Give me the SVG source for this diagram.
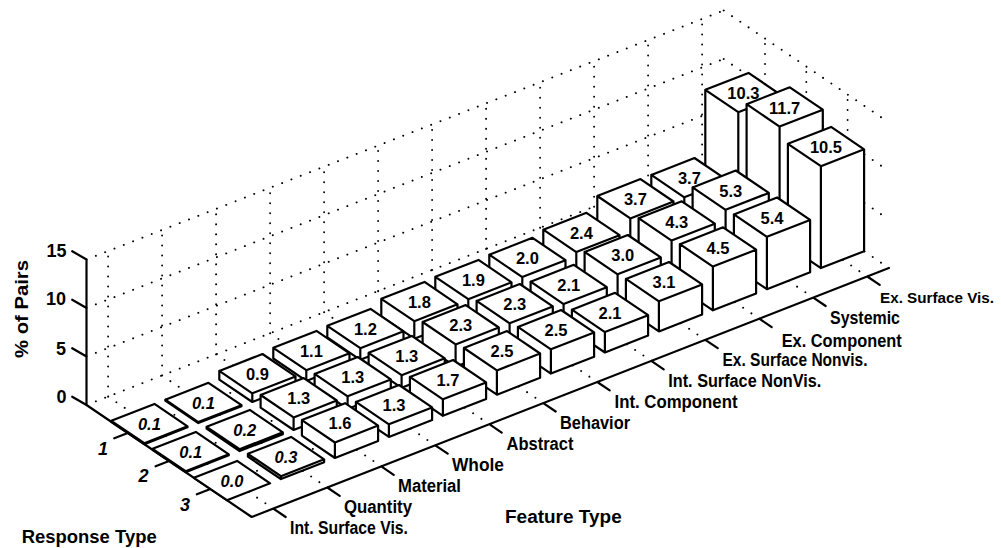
<svg xmlns="http://www.w3.org/2000/svg" width="1001" height="548" viewBox="0 0 1001 548">
<style>
.grid{fill:none;stroke:#000;stroke-width:1.9;stroke-linecap:round;stroke-dasharray:0.1 9.9}
.axis{fill:none;stroke:#000;stroke-width:2.2;stroke-linecap:round;stroke-linejoin:round}
.bar path{fill:#fff;stroke:#000;stroke-width:2.2;stroke-linejoin:round;stroke-linecap:round}
.bar text{font-family:"Liberation Sans",Arial,sans-serif;font-size:16.5px;font-weight:bold;text-anchor:middle;fill:#000}
.bar text.it{font-style:italic}
.lbl{font-family:"Liberation Sans",Arial,sans-serif;font-size:18px;font-weight:bold;fill:#000}
.lbl.sm{font-size:15px}
.tk{font-family:"Liberation Sans",Arial,sans-serif;font-size:18px;font-weight:bold;fill:#000}
</style>
<rect width="1001" height="548" fill="#fff"/>
<g id="grid">
<path class="grid" d="M86.5,405 L723.7,156 M86.5,356.5 L723.7,107.5 M86.5,308 L723.7,59 M86.5,259.5 L723.7,10.5
M108.1,396.6 V251.1 M162.1,375.5 V230 M216.1,354.4 V208.9 M270.1,333.3 V187.8 M324.1,312.2 V166.7 M378.1,291.1 V145.6 M432.1,270 V124.5 M486.1,248.9 V103.4 M540.1,227.8 V82.3 M594.1,206.7 V61.2 M648.1,185.6 V40.1 M702.1,164.5 V19
M723.7,156 L888.9,268 M723.7,107.5 L888.9,219.5 M723.7,59 L888.9,171 M723.7,10.5 L888.9,122.5
M765,184 V38.5 M806.3,212 V66.5 M847.6,240 V94.5
M108.1,396.6 L273.3,508.6 M162.1,375.5 L327.3,487.5 M216.1,354.4 L381.3,466.4 M270.1,333.3 L435.3,445.3 M324.1,312.2 L489.3,424.2 M378.1,291.1 L543.3,403.1 M432.1,270 L597.3,382 M486.1,248.9 L651.3,360.9 M540.1,227.8 L705.3,339.8 M594.1,206.7 L759.3,318.7 M648.1,185.6 L813.3,297.6 M702.1,164.5 L867.3,276.5
M127.8,433 L765,184 M169.1,461 L806.3,212 M210.4,489 L847.6,240"/>
</g>
<g id="axes">
<path class="axis" d="M86.5,259.5 V405 L251.7,517 L888.9,268
M86.5,405 l-14.3,-8.3 M86.5,356.5 l-14.3,-8.3 M86.5,308 l-14.3,-8.3 M86.5,259.5 l-14.3,-8.3
M127.8,433 l-13.5,5.3 M169.1,461 l-13.5,5.3 M210.4,489 l-13.5,5.3
M273.3,508.6 l12.4,8.4 M327.3,487.5 l12.4,8.4 M381.3,466.4 l12.4,8.4 M435.3,445.3 l12.4,8.4 M489.3,424.2 l12.4,8.4 M543.3,403.1 l12.4,8.4 M597.3,382 l12.4,8.4 M651.3,360.9 l12.4,8.4 M705.3,339.8 l12.4,8.4 M759.3,318.7 l12.4,8.4 M813.3,297.6 l12.4,8.4 M867.3,276.5 l12.4,8.4"/>
<text class="tk" x="66.5" y="257" text-anchor="end">15</text>
<text class="tk" x="66" y="305" text-anchor="end">10</text>
<text class="tk" x="66" y="355" text-anchor="end">5</text>
<text class="tk" x="66.5" y="403" text-anchor="end">0</text>
<text class="tk" x="103" y="455" text-anchor="middle" font-style="italic">1</text>
<text class="tk" x="143.5" y="482" text-anchor="middle" font-style="italic">2</text>
<text class="tk" x="185" y="511" text-anchor="middle" font-style="italic">3</text>
<text class="lbl" transform="translate(27.5,309) rotate(-90)" text-anchor="middle" textLength="98" lengthAdjust="spacingAndGlyphs">% of Pairs</text>
<text class="lbl" x="21.7" y="542.7" textLength="135" lengthAdjust="spacingAndGlyphs">Response Type</text>
<text class="lbl" x="505" y="523.3" textLength="116.7" lengthAdjust="spacingAndGlyphs">Feature Type</text>
<text class="lbl" x="290" y="534" textLength="118" lengthAdjust="spacingAndGlyphs">Int. Surface Vis.</text>
<text class="lbl" x="344" y="513" textLength="68" lengthAdjust="spacingAndGlyphs">Quantity</text>
<text class="lbl" x="398" y="492" textLength="63" lengthAdjust="spacingAndGlyphs">Material</text>
<text class="lbl" x="452" y="471" textLength="52" lengthAdjust="spacingAndGlyphs">Whole</text>
<text class="lbl" x="506.5" y="450" textLength="67" lengthAdjust="spacingAndGlyphs">Abstract</text>
<text class="lbl" x="560" y="428.5" textLength="70" lengthAdjust="spacingAndGlyphs">Behavior</text>
<text class="lbl" x="614.5" y="407.5" textLength="123" lengthAdjust="spacingAndGlyphs">Int. Component</text>
<text class="lbl" x="668.3" y="386.5" textLength="153" lengthAdjust="spacingAndGlyphs">Int. Surface NonVis.</text>
<text class="lbl" x="722.5" y="365.5" textLength="145" lengthAdjust="spacingAndGlyphs">Ex. Surface Nonvis.</text>
<text class="lbl" x="781.7" y="347" textLength="120" lengthAdjust="spacingAndGlyphs">Ex. Component</text>
<text class="lbl" x="830" y="323.5" textLength="70" lengthAdjust="spacingAndGlyphs">Systemic</text>
<text class="lbl sm" x="880" y="303" textLength="114" lengthAdjust="spacingAndGlyphs">Ex. Surface Vis.</text>
</g>
<g id="bars">
<g id="bar-12-1" class="bar" transform="translate(705.3,189.7)"><path d="M0,-99.9 L43.2,-116.8 L76.2,-94.4 L76.2,5.5 L33,22.4 L0,0 Z M76.2,-94.4 L33,-77.5 L0,-99.9 M33,-77.5 L33,22.4"/><text x="38.1" y="-90.6">10.3</text></g>
<g id="bar-11-1" class="bar" transform="translate(651.3,210.8)"><path d="M0,-35.9 L43.2,-52.8 L76.2,-30.4 L76.2,5.5 L33,22.4 L0,0 Z M76.2,-30.4 L33,-13.5 L0,-35.9 M33,-13.5 L33,22.4"/><text x="38.1" y="-26.6">3.7</text></g>
<g id="bar-12-2" class="bar" transform="translate(746.6,217.7)"><path d="M0,-113.5 L43.2,-130.4 L76.2,-108 L76.2,5.5 L33,22.4 L0,0 Z M76.2,-108 L33,-91.1 L0,-113.5 M33,-91.1 L33,22.4"/><text x="38.1" y="-104.2">11.7</text></g>
<g id="bar-10-1" class="bar" transform="translate(597.3,231.9)"><path d="M0,-35.9 L43.2,-52.8 L76.2,-30.4 L76.2,5.5 L33,22.4 L0,0 Z M76.2,-30.4 L33,-13.5 L0,-35.9 M33,-13.5 L33,22.4"/><text x="38.1" y="-26.6">3.7</text></g>
<g id="bar-11-2" class="bar" transform="translate(692.6,238.8)"><path d="M0,-51.4 L43.2,-68.3 L76.2,-45.9 L76.2,5.5 L33,22.4 L0,0 Z M76.2,-45.9 L33,-29 L0,-51.4 M33,-29 L33,22.4"/><text x="38.1" y="-42.1">5.3</text></g>
<g id="bar-12-3" class="bar" transform="translate(787.9,245.7)"><path d="M0,-101.9 L43.2,-118.8 L76.2,-96.4 L76.2,5.5 L33,22.4 L0,0 Z M76.2,-96.4 L33,-79.5 L0,-101.9 M33,-79.5 L33,22.4"/><text x="38.1" y="-92.6">10.5</text></g>
<g id="bar-9-1" class="bar" transform="translate(543.3,253)"><path d="M0,-23.3 L43.2,-40.2 L76.2,-17.8 L76.2,5.5 L33,22.4 L0,0 Z M76.2,-17.8 L33,-0.9 L0,-23.3 M33,-0.9 L33,22.4"/><text x="38.1" y="-14">2.4</text></g>
<g id="bar-10-2" class="bar" transform="translate(638.6,259.9)"><path d="M0,-41.7 L43.2,-58.6 L76.2,-36.2 L76.2,5.5 L33,22.4 L0,0 Z M76.2,-36.2 L33,-19.3 L0,-41.7 M33,-19.3 L33,22.4"/><text x="38.1" y="-32.4">4.3</text></g>
<g id="bar-11-3" class="bar" transform="translate(733.9,266.8)"><path d="M0,-52.4 L43.2,-69.3 L76.2,-46.9 L76.2,5.5 L33,22.4 L0,0 Z M76.2,-46.9 L33,-30 L0,-52.4 M33,-30 L33,22.4"/><text x="38.1" y="-43.1">5.4</text></g>
<g id="bar-8-1" class="bar" transform="translate(489.3,274.1)"><path d="M0,-19.4 L43.2,-36.3 L76.2,-13.9 L76.2,5.5 L33,22.4 L0,0 Z M76.2,-13.9 L33,3 L0,-19.4 M33,3 L33,22.4"/><text x="38.1" y="-10.1">2.0</text></g>
<g id="bar-9-2" class="bar" transform="translate(584.6,281)"><path d="M0,-29.1 L43.2,-46 L76.2,-23.6 L76.2,5.5 L33,22.4 L0,0 Z M76.2,-23.6 L33,-6.7 L0,-29.1 M33,-6.7 L33,22.4"/><text x="38.1" y="-19.8">3.0</text></g>
<g id="bar-10-3" class="bar" transform="translate(679.9,287.9)"><path d="M0,-43.7 L43.2,-60.6 L76.2,-38.2 L76.2,5.5 L33,22.4 L0,0 Z M76.2,-38.2 L33,-21.3 L0,-43.7 M33,-21.3 L33,22.4"/><text x="38.1" y="-34.4">4.5</text></g>
<g id="bar-7-1" class="bar" transform="translate(435.3,295.2)"><path d="M0,-18.4 L43.2,-35.3 L76.2,-12.9 L76.2,5.5 L33,22.4 L0,0 Z M76.2,-12.9 L33,4 L0,-18.4 M33,4 L33,22.4"/><text x="38.1" y="-9.1">1.9</text></g>
<g id="bar-8-2" class="bar" transform="translate(530.6,302.1)"><path d="M0,-20.4 L43.2,-37.3 L76.2,-14.9 L76.2,5.5 L33,22.4 L0,0 Z M76.2,-14.9 L33,2 L0,-20.4 M33,2 L33,22.4"/><text x="38.1" y="-11.1">2.1</text></g>
<g id="bar-9-3" class="bar" transform="translate(625.9,309)"><path d="M0,-30.1 L43.2,-47 L76.2,-24.6 L76.2,5.5 L33,22.4 L0,0 Z M76.2,-24.6 L33,-7.7 L0,-30.1 M33,-7.7 L33,22.4"/><text x="38.1" y="-20.8">3.1</text></g>
<g id="bar-6-1" class="bar" transform="translate(381.3,316.3)"><path d="M0,-17.5 L43.2,-34.4 L76.2,-12 L76.2,5.5 L33,22.4 L0,0 Z M76.2,-12 L33,4.9 L0,-17.5 M33,4.9 L33,22.4"/><text x="38.1" y="-8.2">1.8</text></g>
<g id="bar-7-2" class="bar" transform="translate(476.6,323.2)"><path d="M0,-22.3 L43.2,-39.2 L76.2,-16.8 L76.2,5.5 L33,22.4 L0,0 Z M76.2,-16.8 L33,0.1 L0,-22.3 M33,0.1 L33,22.4"/><text x="38.1" y="-13">2.3</text></g>
<g id="bar-8-3" class="bar" transform="translate(571.9,330.1)"><path d="M0,-20.4 L43.2,-37.3 L76.2,-14.9 L76.2,5.5 L33,22.4 L0,0 Z M76.2,-14.9 L33,2 L0,-20.4 M33,2 L33,22.4"/><text x="38.1" y="-11.1">2.1</text></g>
<g id="bar-5-1" class="bar" transform="translate(327.3,337.4)"><path d="M0,-11.6 L43.2,-28.5 L76.2,-6.1 L76.2,5.5 L33,22.4 L0,0 Z M76.2,-6.1 L33,10.8 L0,-11.6 M33,10.8 L33,22.4"/><text x="38.1" y="-2.3">1.2</text></g>
<g id="bar-6-2" class="bar" transform="translate(422.6,344.3)"><path d="M0,-22.3 L43.2,-39.2 L76.2,-16.8 L76.2,5.5 L33,22.4 L0,0 Z M76.2,-16.8 L33,0.1 L0,-22.3 M33,0.1 L33,22.4"/><text x="38.1" y="-13">2.3</text></g>
<g id="bar-7-3" class="bar" transform="translate(517.9,351.2)"><path d="M0,-24.3 L43.2,-41.2 L76.2,-18.8 L76.2,5.5 L33,22.4 L0,0 Z M76.2,-18.8 L33,-1.9 L0,-24.3 M33,-1.9 L33,22.4"/><text x="38.1" y="-15">2.5</text></g>
<g id="bar-4-1" class="bar" transform="translate(273.3,358.5)"><path d="M0,-10.7 L43.2,-27.6 L76.2,-5.2 L76.2,5.5 L33,22.4 L0,0 Z M76.2,-5.2 L33,11.7 L0,-10.7 M33,11.7 L33,22.4"/><text x="38.1" y="-1.4">1.1</text></g>
<g id="bar-5-2" class="bar" transform="translate(368.6,365.4)"><path d="M0,-12.6 L43.2,-29.5 L76.2,-7.1 L76.2,5.5 L33,22.4 L0,0 Z M76.2,-7.1 L33,9.8 L0,-12.6 M33,9.8 L33,22.4"/><text x="38.1" y="-3.3">1.3</text></g>
<g id="bar-6-3" class="bar" transform="translate(463.9,372.3)"><path d="M0,-24.3 L43.2,-41.2 L76.2,-18.8 L76.2,5.5 L33,22.4 L0,0 Z M76.2,-18.8 L33,-1.9 L0,-24.3 M33,-1.9 L33,22.4"/><text x="38.1" y="-15">2.5</text></g>
<g id="bar-3-1" class="bar" transform="translate(219.3,379.6)"><path d="M0,-8.7 L43.2,-25.6 L76.2,-3.2 L76.2,5.5 L33,22.4 L0,0 Z M76.2,-3.2 L33,13.7 L0,-8.7 M33,13.7 L33,22.4"/><text x="38.1" y="0.6">0.9</text></g>
<g id="bar-4-2" class="bar" transform="translate(314.6,386.5)"><path d="M0,-12.6 L43.2,-29.5 L76.2,-7.1 L76.2,5.5 L33,22.4 L0,0 Z M76.2,-7.1 L33,9.8 L0,-12.6 M33,9.8 L33,22.4"/><text x="38.1" y="-3.3">1.3</text></g>
<g id="bar-5-3" class="bar" transform="translate(409.9,393.4)"><path d="M0,-16.5 L43.2,-33.4 L76.2,-11 L76.2,5.5 L33,22.4 L0,0 Z M76.2,-11 L33,5.9 L0,-16.5 M33,5.9 L33,22.4"/><text x="38.1" y="-7.2">1.7</text></g>
<g id="bar-2-1" class="bar" transform="translate(165.3,400.7)"><path d="M0,-1 L43.2,-17.9 L76.2,4.5 L76.2,5.5 L33,22.4 L0,0 Z M76.2,4.5 L33,21.4 L0,-1 M33,21.4 L33,22.4"/><text class="it" x="38.1" y="8.3">0.1</text></g>
<g id="bar-3-2" class="bar" transform="translate(260.6,407.6)"><path d="M0,-12.6 L43.2,-29.5 L76.2,-7.1 L76.2,5.5 L33,22.4 L0,0 Z M76.2,-7.1 L33,9.8 L0,-12.6 M33,9.8 L33,22.4"/><text x="38.1" y="-3.3">1.3</text></g>
<g id="bar-4-3" class="bar" transform="translate(355.9,414.5)"><path d="M0,-12.6 L43.2,-29.5 L76.2,-7.1 L76.2,5.5 L33,22.4 L0,0 Z M76.2,-7.1 L33,9.8 L0,-12.6 M33,9.8 L33,22.4"/><text x="38.1" y="-3.3">1.3</text></g>
<g id="bar-1-1" class="bar" transform="translate(111.3,421.8)"><path d="M0,-1 L43.2,-17.9 L76.2,4.5 L76.2,5.5 L33,22.4 L0,0 Z M76.2,4.5 L33,21.4 L0,-1 M33,21.4 L33,22.4"/><text class="it" x="38.1" y="8.3">0.1</text></g>
<g id="bar-2-2" class="bar" transform="translate(206.6,428.7)"><path d="M0,-1.9 L43.2,-18.8 L76.2,3.6 L76.2,5.5 L33,22.4 L0,0 Z M76.2,3.6 L33,20.5 L0,-1.9 M33,20.5 L33,22.4"/><text class="it" x="38.1" y="7.4">0.2</text></g>
<g id="bar-3-3" class="bar" transform="translate(301.9,435.6)"><path d="M0,-15.5 L43.2,-32.4 L76.2,-10 L76.2,5.5 L33,22.4 L0,0 Z M76.2,-10 L33,6.9 L0,-15.5 M33,6.9 L33,22.4"/><text x="38.1" y="-6.2">1.6</text></g>
<g id="bar-1-2" class="bar" transform="translate(152.6,449.8)"><path d="M0,-1 L43.2,-17.9 L76.2,4.5 L76.2,5.5 L33,22.4 L0,0 Z M76.2,4.5 L33,21.4 L0,-1 M33,21.4 L33,22.4"/><text class="it" x="38.1" y="8.3">0.1</text></g>
<g id="bar-2-3" class="bar" transform="translate(247.9,456.7)"><path d="M0,-2.9 L43.2,-19.8 L76.2,2.6 L76.2,5.5 L33,22.4 L0,0 Z M76.2,2.6 L33,19.5 L0,-2.9 M33,19.5 L33,22.4"/><text class="it" x="38.1" y="6.4">0.3</text></g>
<g id="bar-1-3" class="bar" transform="translate(193.9,477.8)"><path d="M0,0 L43.2,-16.9 L76.2,5.5 L33,22.4 Z"/><text class="it" x="38.1" y="9.3">0.0</text></g>
</g>
</svg>
